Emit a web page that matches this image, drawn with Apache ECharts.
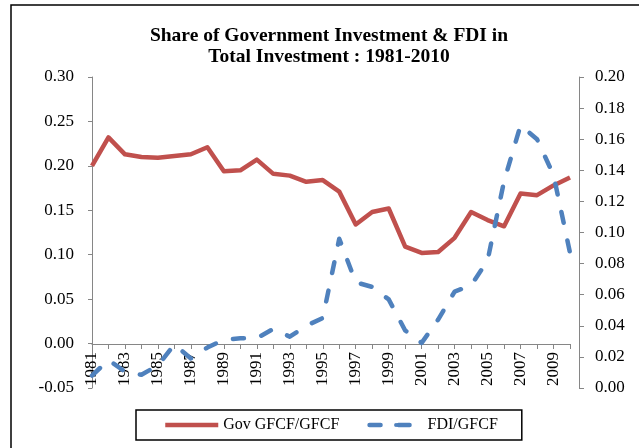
<!DOCTYPE html>
<html>
<head>
<meta charset="utf-8">
<script src="https://cdn.jsdelivr.net/npm/echarts@6/dist/echarts.min.js"></script>
<style>
  html, body { margin: 0; padding: 0; background: #fff; }
  #chart { width: 639px; height: 448px; }
</style>
</head>
<body>
<div id="chart"></div>
<script>
const years = [
  "1981", "1982", "1983", "1984", "1985", "1986", "1987", "1988", "1989", "1990",
  "1991", "1992", "1993", "1994", "1995", "1996", "1997", "1998", "1999", "2000",
  "2001", "2002", "2003", "2004", "2005", "2006", "2007", "2008", "2009", "2010",
];

// left axis
const govShare = [
  0.200, 0.232, 0.213, 0.210, 0.209, 0.211, 0.213, 0.221, 0.194, 0.195,
  0.207, 0.191, 0.189, 0.182, 0.184, 0.171, 0.134, 0.148, 0.152, 0.109,
  0.102, 0.103, 0.119, 0.148, 0.139, 0.132, 0.169, 0.167, 0.178, 0.187,
];

// right axis
const fdiShare = [
  0.008, 0.018, 0.0105, 0.0085, 0.0145, 0.028, 0.019, 0.026, 0.031, 0.032,
  0.032, 0.038, 0.033, 0.040, 0.045, 0.096, 0.068, 0.065, 0.057, 0.037,
  0.029, 0.044, 0.062, 0.066, 0.082, 0.133, 0.169, 0.160, 0.137, 0.087,
];

const seriesNames = ["Gov GFCF/GFCF", "FDI/GFCF"];

const font = "'Liberation Serif', 'DejaVu Serif', serif";
const axisGrey = "#868686";

const chart = echarts.init(document.getElementById("chart"));

chart.setOption({
  backgroundColor: "#fff",
  animation: false,
  title: {
    text: "Share of Government Investment & FDI in\nTotal Investment : 1981-2010",
    left: 324,
    top: 20,
    textAlign: "center",
    textStyle: {
      fontFamily: font,
      fontSize: 19.5,
      fontWeight: "bold",
      color: "#000",
      lineHeight: 21,
    },
  },
  graphic: [
    {
      type: "rect",
      shape: { x: 11, y: 5, width: 700, height: 500 },
      style: { fill: "none", stroke: "#000", lineWidth: 1.5 },
      silent: true,
    },
  ],
  legend: {
    left: 136,
    top: 410,
    padding: [7, 24, 7, 27],
    itemGap: 28,
    itemWidth: 53,
    itemHeight: 5,
    borderColor: "#000",
    borderWidth: 1.5,
    lineStyle: { width: 4.5 },
    textStyle: { fontFamily: font, fontSize: 16, color: "#000" },
    data: seriesNames,
  },
  grid: {
    left: 92,
    right: 69,
    top: 77,
    bottom: 60,
  },
  xAxis: {
    type: "category",
    data: years,
    boundaryGap: false,
    // x axis sits on the 0.00 line of the left axis
    offset: -44,
    axisLine: {
      onZero: false,
      lineStyle: { color: axisGrey, width: 1 },
    },
    axisTick: {
      interval: 0,
      length: 5,
      lineStyle: { color: axisGrey },
    },
    axisLabel: {
      interval: 1,
      rotate: 90,
      margin: 8,
      fontFamily: font,
      fontSize: 17,
      color: "#000",
    },
    splitLine: { show: false },
  },
  yAxis: [
    {
      type: "value",
      position: "left",
      min: -0.05,
      max: 0.3,
      interval: 0.05,
      axisLine: { show: true, lineStyle: { color: axisGrey } },
      axisTick: { show: true, length: 4, lineStyle: { color: axisGrey } },
      axisLabel: {
        margin: 18,
        fontFamily: font,
        fontSize: 17,
        color: "#000",
        formatter: (v) => v.toFixed(2),
      },
      splitLine: { show: false },
    },
    {
      type: "value",
      position: "right",
      offset: 9,
      min: 0,
      max: 0.2,
      interval: 0.02,
      axisLine: { show: true, lineStyle: { color: axisGrey } },
      axisTick: { show: true, length: 5, lineStyle: { color: axisGrey } },
      axisLabel: {
        margin: 16,
        fontFamily: font,
        fontSize: 17,
        color: "#000",
        formatter: (v) => v.toFixed(2),
      },
      splitLine: { show: false },
    },
  ],
  series: [
    {
      name: seriesNames[0],
      type: "line",
      yAxisIndex: 0,
      data: govShare,
      symbol: "none",
      lineStyle: { color: "#C0504D", width: 4.5, join: "round" },
      itemStyle: { color: "#C0504D" },
    },
    {
      name: seriesNames[1],
      type: "line",
      yAxisIndex: 1,
      data: fdiShare,
      symbol: "none",
      lineStyle: {
        color: "#4F81BD",
        width: 4.5,
        type: [11, 18],
        cap: "round",
        join: "round",
      },
      itemStyle: { color: "#4F81BD" },
    },
  ],
});
</script>
</body>
</html>
